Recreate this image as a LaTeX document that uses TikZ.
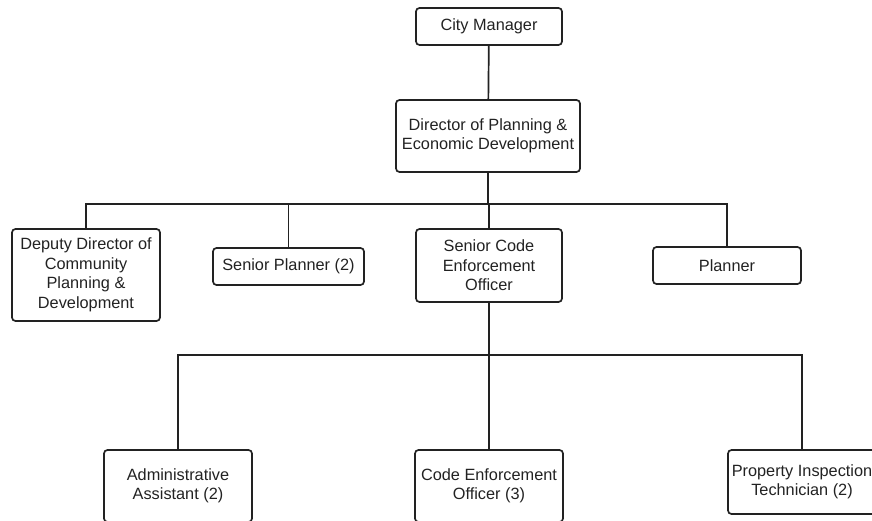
\documentclass[tikz,border=0pt]{standalone}
\usepackage{fontspec}
\setmainfont{Liberation Sans}
\definecolor{ink}{HTML}{222222}
\tikzset{
  post/.style={draw=ink,line width=1.7pt,rounded corners=3.5pt,align=center,
    inner sep=0pt,text=ink,font=\fontsize{16.3}{19.5}\selectfont},
  link/.style={draw=ink,line width=1.7pt}
}
\begin{document}
\begin{tikzpicture}[x=1pt,y=-1pt]
\useasboundingbox (0,0) rectangle (872,521);
% top
\node[post,minimum width=146,minimum height=37] (cm) at (489,26.5) {City Manager};
\node[post,minimum width=184,minimum height=72] (dir) at (488,136)
  {Director of Planning \&\\Economic Development};
% second row
\node[post,minimum width=148,minimum height=92] (dep) at (86,275)
  {Deputy Director of\\Community\\Planning \&\\Development};
\node[post,minimum width=151,minimum height=37] (sp) at (288.5,266.5) {Senior Planner (2)};
\node[post,minimum width=146,minimum height=73] (sce) at (489,265.5)
  {Senior Code\\Enforcement\\Officer};
\node[post,minimum width=148,minimum height=37] (pl) at (727,265.5) {Planner};
% third row
\node[post,minimum width=148,minimum height=72] (adm) at (178,486)
  {Administrative\\Assistant (2)};
\node[post,minimum width=148,minimum height=72] (ceo) at (489,486)
  {Code Enforcement\\Officer (3)};
\node[post,minimum width=148,minimum height=64] (pit) at (802,482)
  {Property Inspection\\Technician (2)};
% connectors
\draw[link] (cm) -- (dir);
\draw[link] (dir.south) -- ++(0,31) coordinate (bar1);
\foreach \n in {dep,sp,sce,pl} {
  \draw[link] (bar1) -| (\n.north);
}
\draw[link] (sce.south) -- ++(0,52) coordinate (bar2);
\foreach \n in {adm,ceo,pit} {
  \draw[link] (bar2) -| (\n.north);
}
\end{tikzpicture}
\end{document}
